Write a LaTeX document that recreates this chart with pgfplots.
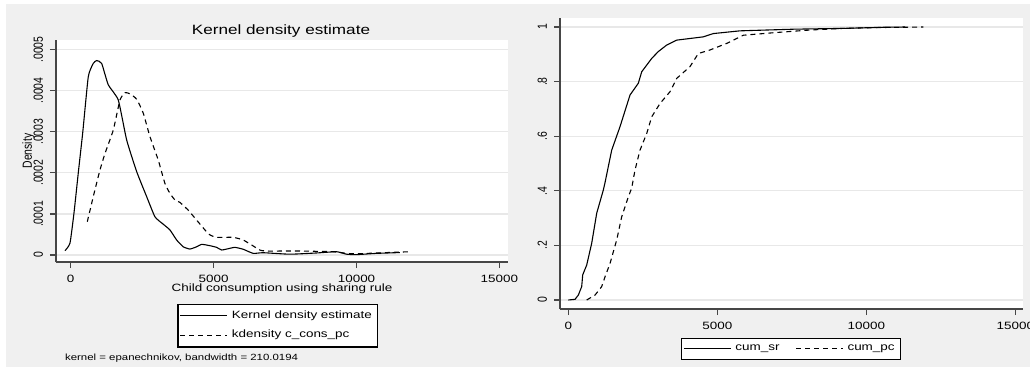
\documentclass[border=0pt]{standalone}
\usepackage{fontspec}
\setmainfont{Liberation Sans}[FakeStretch=1.27]
\newfontfamily\rotfont{Liberation Sans}[FakeStretch=0.79]
\usepackage{pgfplots}
\pgfplotsset{compat=1.18}
\definecolor{bggray}{RGB}{240,240,240}
\definecolor{axgray}{RGB}{70,70,70}
\definecolor{gridgray}{RGB}{232,232,232}
\newcommand{\tickfont}{\fontsize{5.3}{6}\selectfont}
\newcommand{\rottickfont}{\rotfont\fontsize{6.6}{7.5}\selectfont}
\pgfplotsset{
  statastyle/.style={
    scale only axis,
    scaled ticks=false,
    axis x line*=bottom, axis y line*=left,
    axis line style={draw=axgray, line width=0.6pt, -},
    tick align=outside, major tick length=3pt,
    tick style={draw=axgray, line width=0.6pt},
    ymajorgrids, grid style={draw=gridgray, line width=0.6pt},
    axis background/.style={fill=white},
    xticklabel style={font=\tickfont, text=black},
    yticklabel style={font=\rottickfont, rotate=90, anchor=south, text=black},
    xtick={0,5000,10000,15000}, xticklabels={0,5000,10000,15000},
    legend cell align=left,
    legend image code/.code={\draw[##1, line width=0.5pt] (0pt,0pt) -- (23.5pt,0pt);},
    legend style={draw=black, line width=0.6pt, fill=white, font=\tickfont,
      inner sep=1pt, nodes={inner sep=2pt}},
  },
  solidline/.style={black, line width=0.55pt},
  dashline/.style={black, line width=0.55pt, dash pattern=on 2.5pt off 2pt},
}
\begin{document}
\begin{tikzpicture}
\path[use as bounding box] (0,0) rectangle (515pt,-188.5pt);
\fill[bggray] (3pt,-2pt) rectangle (515pt,-183.5pt);

\begin{axis}[statastyle, name=left,
  at={(28pt,-131pt)}, anchor=south west,
  width=226pt, height=111pt,
  xmin=-514, xmax=15300, ymin=-0.000017, ymax=0.000523,
  ytick={0,0.0001,0.0002,0.0003,0.0004,0.0005},
  yticklabels={0,.0001,.0002,.0003,.0004,.0005},
  legend style={at={(0.491,-0.189)}, anchor=north, row sep=0.5pt},
]
\addplot[solidline, smooth, tension=0.3] coordinates {
(-200,1.05e-5) (-25,2.9e-5) (115,1.02e-4) (266,2.0e-4) (420,2.97e-4) (616,4.34e-4)
(790,4.66e-4) (909,4.73e-4) (1084,4.66e-4) (1315,4.14e-4) (1665,3.77e-4) (1958,2.8e-4)
(2308,2.03e-4) (2658,1.42e-4) (2948,9.3e-5) (3220,7.6e-5) (3473,6.1e-5) (3707,3.65e-5)
(3938,2.0e-5) (4172,1.46e-5) (4405,2.0e-5) (4581,2.6e-5) (4871,2.27e-5) (5105,1.87e-5)
(5280,1.22e-5) (5571,1.63e-5) (5746,1.87e-5) (6036,1.4e-5) (6386,4e-6) (6735,5.6e-6)
(7668,2e-6) (8603,5e-6) (9302,8e-6) (9652,2e-6) (10001,1e-6) (10700,4e-6) (11516,6e-6)
};
\addlegendentry{Kernel density estimate}
\addplot[dashline, smooth, tension=0.3] coordinates {
(581,8.1e-5) (790,1.42e-4) (1025,2.07e-4) (1200,2.47e-4) (1490,3.04e-4) (1724,3.77e-4)
(1899,3.95e-4) (2074,3.92e-4) (2308,3.79e-4) (2539,3.45e-4) (2773,2.88e-4) (3063,2.31e-4)
(3298,1.74e-4) (3472,1.5e-4) (3647,1.34e-4) (3822,1.28e-4) (4113,1.09e-4) (4405,8.5e-5)
(4697,6.1e-5) (4871,4.9e-5) (5105,4.3e-5) (5686,4.3e-5) (6036,3.65e-5) (6386,2.2e-5)
(6620,1.2e-5) (6853,9.7e-6) (8000,9.7e-6) (9186,8e-6) (9652,4e-6) (10001,3e-6)
(10933,5.6e-6) (11866,8e-6)
};
\addlegendentry{kdensity c\_cons\_pc}
\end{axis}

\node[anchor=base, font=\fontsize{6.75}{8}\selectfont] at (140.5pt,-17pt) {Kernel density estimate};
\node[anchor=base, font=\tickfont] at (141pt,-145.75pt) {Child consumption using sharing rule};
\node[rotate=90, anchor=center, font=\rottickfont] at (14.25pt,-75.5pt) {Density};
\node[anchor=base west, font=\fontsize{4.5}{5}\selectfont] at (29pt,-180pt) {kernel = epanechnikov, bandwidth = 210.0194};

\begin{axis}[statastyle, name=right,
  at={(280pt,-154.5pt)}, anchor=south west,
  width=231.5pt, height=145.5pt,
  xmin=-279, xmax=15258, ymin=-0.033, ymax=1.033,
  ytick={0,0.2,0.4,0.6,0.8,1},
  yticklabels={0,.2,.4,.6,.8,1},
  legend columns=2,
  legend style={at={(0.499,-0.0997)}, anchor=north,
    /tikz/every even column/.append style={column sep=6pt}},
]
\addplot[solidline] coordinates {
(0,0) (225,0.0025) (336,0.018) (449,0.049) (483,0.092) (617,0.128) (785,0.208)
(953,0.318) (1175,0.403) (1232,0.43) (1456,0.549) (1735,0.635) (2071,0.751)
(2349,0.794) (2463,0.836) (2798,0.885) (3020,0.910) (3302,0.934) (3638,0.952)
(4531,0.964) (4866,0.976) (5762,0.986) (7551,0.992) (9229,0.995) (10571,0.999) (11300,1.0)
};
\addlegendentry{cum\_sr}
\addplot[dashline] coordinates {
(617,0) (896,0.018) (1120,0.049) (1232,0.085) (1400,0.134) (1624,0.22) (1792,0.305)
(2014,0.378) (2127,0.41) (2238,0.476) (2406,0.549) (2631,0.61) (2798,0.671) (3078,0.72)
(3413,0.763) (3638,0.812) (4084,0.855) (4363,0.903) (4755,0.916) (5316,0.94) (5874,0.97)
(6994,0.98) (8111,0.989) (9229,0.995) (10348,0.998) (11914,1.0)
};
\addlegendentry{cum\_pc}
\end{axis}
\end{tikzpicture}
\end{document}
